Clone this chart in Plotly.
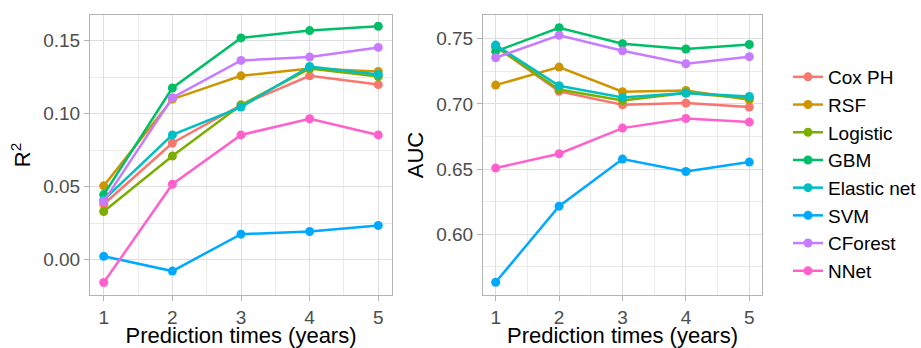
import plotly.graph_objects as go

years = [1, 2, 3, 4, 5]
models = ["Cox PH", "RSF", "Logistic", "GBM", "Elastic net", "SVM", "CForest", "NNet"]
colors = ["#F8766D", "#CD9600", "#7CAE00", "#00BE67", "#00BFC4", "#00A9FF", "#C77CFF", "#FF61CC"]

r2_cox = [0.038, 0.080, 0.106, 0.126, 0.120]
r2_rsf = [0.0506, 0.110, 0.126, 0.131, 0.129]
r2_logistic = [0.033, 0.071, 0.106, 0.131, 0.1255]
r2_gbm = [0.0446, 0.1177, 0.152, 0.157, 0.160]
r2_enet = [0.041, 0.0855, 0.1046, 0.1324, 0.127]
r2_svm = [0.0023, -0.0078, 0.0175, 0.0193, 0.0234]
r2_cforest = [0.040, 0.111, 0.1366, 0.1389, 0.1455]
r2_nnet = [-0.0156, 0.0517, 0.0855, 0.0966, 0.0855]

auc_cox = [0.744, 0.7096, 0.6993, 0.7006, 0.6975]
auc_rsf = [0.7144, 0.7282, 0.7093, 0.7103, 0.7031]
auc_logistic = [0.744, 0.711, 0.7026, 0.7083, 0.7044]
auc_gbm = [0.7403, 0.7584, 0.7462, 0.7421, 0.7456]
auc_enet = [0.7451, 0.7139, 0.7049, 0.7083, 0.7057]
auc_svm = [0.5631, 0.6215, 0.6576, 0.6481, 0.6553]
auc_cforest = [0.7354, 0.7526, 0.7408, 0.7308, 0.7362]
auc_nnet = [0.6507, 0.6617, 0.6814, 0.6888, 0.6860]

r2_values = [r2_cox, r2_rsf, r2_logistic, r2_gbm, r2_enet, r2_svm, r2_cforest, r2_nnet]
auc_values = [auc_cox, auc_rsf, auc_logistic, auc_gbm, auc_enet, auc_svm, auc_cforest, auc_nnet]

FONT = "Liberation Sans, Arial, sans-serif"
fig = go.Figure()

for name, col, r2 in zip(models, colors, r2_values):
    fig.add_trace(go.Scatter(
        x=years, y=r2, mode="lines+markers", name=name, legendgroup=name,
        line=dict(color=col, width=2.5), marker=dict(color=col, size=9),
        xaxis="x", yaxis="y", showlegend=True))
for name, col, auc in zip(models, colors, auc_values):
    fig.add_trace(go.Scatter(
        x=years, y=auc, mode="lines+markers", name=name, legendgroup=name,
        line=dict(color=col, width=2.5), marker=dict(color=col, size=9),
        xaxis="x2", yaxis="y2", showlegend=False))

W, H = 921, 348
grid_major = "#DEDEDE"
grid_minor = "#EBEBEB"
border = "#B3B3B3"

def xaxis(domain, anchor):
    return dict(
        domain=domain, anchor=anchor, range=[0.8, 5.2], automargin=False,
        tickmode="array", tickvals=years, ticktext=[str(v) for v in years],
        showgrid=True, gridcolor=grid_major, gridwidth=1,
        minor=dict(showgrid=True, gridcolor=grid_minor, gridwidth=0.6,
                   tickvals=[1.5, 2.5, 3.5, 4.5]),
        showline=True, linecolor=border, linewidth=1, mirror=True,
        ticks="outside", ticklen=5, tickcolor=border,
        tickfont=dict(family=FONT, size=19, color="#4D4D4D"),
        title=dict(text="Prediction times (years)",
                   font=dict(family=FONT, size=22, color="black"), standoff=1),
        zeroline=False)

def yaxis(domain, anchor, rng, tick0, title):
    return dict(
        domain=domain, anchor=anchor, range=rng, automargin=False,
        dtick=0.05, tick0=tick0, tickformat=".2f",
        showgrid=True, gridcolor=grid_major, gridwidth=1,
        minor=dict(showgrid=True, gridcolor=grid_minor, gridwidth=0.6, dtick=0.025),
        showline=True, linecolor=border, linewidth=1, mirror=True,
        ticks="outside", ticklen=5, tickcolor=border,
        tickfont=dict(family=FONT, size=19, color="#4D4D4D"),
        title=dict(text=title, font=dict(family=FONT, size=22, color="black"), standoff=6),
        zeroline=False)

ydom = [1 - 295 / H, 1 - 15 / H]
fig.update_layout(
    width=W, height=H,
    margin=dict(l=0, r=0, t=0, b=0, autoexpand=False),
    paper_bgcolor="white", plot_bgcolor="white",
    xaxis=xaxis([90 / W, 392 / W], "y"),
    yaxis=yaxis(ydom, "x", [-0.0242, 0.1677], 0, "R<sup>2</sup>"),
    xaxis2=xaxis([483 / W, 762 / W], "y2"),
    yaxis2=yaxis(ydom, "x2", [0.5533, 0.7682], 0.6, "AUC"),
    legend=dict(x=788 / W, xanchor="left", y=0.5, yanchor="middle",
                font=dict(family=FONT, size=19, color="black"),
                tracegroupgap=0, bgcolor="rgba(0,0,0,0)"),
    showlegend=True,
)

fig.write_html("out.html", config={"displayModeBar": False},
               post_script="document.body.style.margin='0';document.body.style.overflow='hidden';")
